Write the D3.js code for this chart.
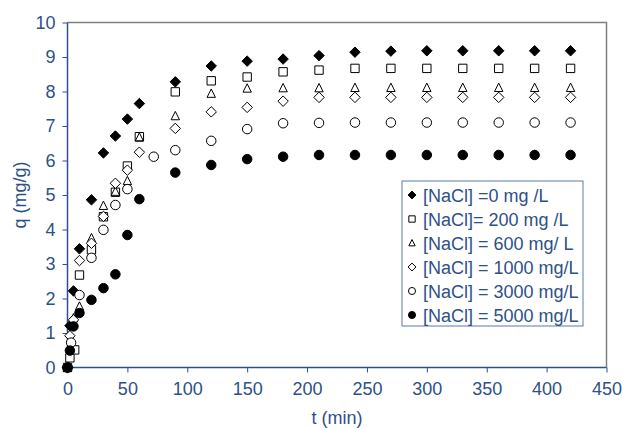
<!DOCTYPE html>
<html>
<head>
<meta charset="utf-8">
<script src="https://cdn.jsdelivr.net/npm/d3@7"></script>
<style>
  body { margin: 0; background: #fff; }
  text { font-family: "Liberation Sans", Arial, sans-serif; }
</style>
</head>
<body>
<div id="chart"></div>
<script>
var w = 625, h = 428;

// sampling times (min) and q (mg/g) for each NaCl level
var t0 = [0, 2, 5, 10, 20, 30, 40, 50, 60, 90, 120, 150, 180, 210, 240, 270, 300, 330, 360, 390, 420];
var q0 = [0, 1.21, 2.22, 3.44, 4.86, 6.22, 6.71, 7.2, 7.65, 8.28, 8.74, 8.88, 8.94, 9.04, 9.14, 9.17, 9.18, 9.18, 9.18, 9.18, 9.18];

var t200 = [0, 2, 6, 10, 20, 30, 40, 50, 60, 90, 120, 150, 180, 210, 240, 270, 300, 330, 360, 390, 420];
var q200 = [0, 0.28, 0.51, 2.68, 3.41, 4.37, 5.08, 5.84, 6.69, 7.99, 8.31, 8.42, 8.57, 8.62, 8.67, 8.67, 8.67, 8.67, 8.67, 8.67, 8.67];

var t600 = [0, 5, 10, 20, 30, 40, 50, 60, 90, 120, 150, 180, 210, 240, 270, 300, 330, 360, 390, 420];
var q600 = [0, 1.43, 1.77, 3.75, 4.69, 5.1, 5.41, 6.67, 7.29, 7.94, 8.09, 8.1, 8.1, 8.11, 8.11, 8.11, 8.11, 8.11, 8.11, 8.11];

var t1000 = [0, 2, 5, 10, 20, 30, 40, 50, 60, 90, 120, 150, 180, 210, 240, 270, 300, 330, 360, 390, 420];
var q1000 = [0, 0.92, 1.38, 3.1, 3.6, 4.38, 5.34, 5.72, 6.24, 6.93, 7.41, 7.54, 7.72, 7.83, 7.83, 7.83, 7.83, 7.83, 7.83, 7.83, 7.83];

var t3000 = [0, 3, 10, 20, 30, 40, 50, 72, 90, 120, 150, 180, 210, 240, 270, 300, 330, 360, 390, 420];
var q3000 = [0, 0.72, 2.1, 3.18, 3.99, 4.71, 5.17, 6.11, 6.3, 6.57, 6.91, 7.08, 7.09, 7.1, 7.1, 7.1, 7.1, 7.1, 7.1, 7.1];

var t5000 = [0, 2, 5, 10, 20, 30, 40, 50, 60, 90, 120, 150, 180, 210, 240, 270, 300, 330, 360, 390, 420];
var q5000 = [0, 0.49, 1.19, 1.58, 1.96, 2.3, 2.7, 3.84, 4.88, 5.65, 5.87, 6.04, 6.11, 6.16, 6.16, 6.16, 6.16, 6.16, 6.16, 6.16, 6.16];

var seriesNames = ["[NaCl] =0 mg /L", "[NaCl]= 200 mg /L", "[NaCl] = 600 mg/ L",
                   "[NaCl] = 1000 mg/L", "[NaCl] = 3000 mg/L", "[NaCl] = 5000 mg/L"];
var xTicks = [0, 50, 100, 150, 200, 250, 300, 350, 400, 450];
var yTicks = [0, 1, 2, 3, 4, 5, 6, 7, 8, 9, 10];

var blue = "#2e5089";

// excel-like marker shapes
var diamond = { draw: function (c, s) { var r = Math.sqrt(s) / 2 * 1.25; c.moveTo(0, -r); c.lineTo(r, 0); c.lineTo(0, r); c.lineTo(-r, 0); c.closePath(); } };
var square = { draw: function (c, s) { var r = Math.sqrt(s) / 2; c.rect(-r, -r, 2 * r, 2 * r); } };
var triangle = { draw: function (c, s) { var r = Math.sqrt(s) / 2; c.moveTo(0, -r * 1.1); c.lineTo(r, r * 0.9); c.lineTo(-r, r * 0.9); c.closePath(); } };
var circle = { draw: function (c, s) { var r = Math.sqrt(s) / 2; c.moveTo(r, 0); c.arc(0, 0, r, 0, 2 * Math.PI); } };

var series = [
  { name: seriesNames[0], t: t0, q: q0, shape: diamond, fill: "#000" },
  { name: seriesNames[1], t: t200, q: q200, shape: square, fill: "#fff" },
  { name: seriesNames[2], t: t600, q: q600, shape: triangle, fill: "none" },
  { name: seriesNames[3], t: t1000, q: q1000, shape: diamond, fill: "#fff" },
  { name: seriesNames[4], t: t3000, q: q3000, shape: circle, fill: "#fff" },
  { name: seriesNames[5], t: t5000, q: q5000, shape: circle, fill: "#000" }
];

var svg = d3.select("#chart").append("svg")
    .attr("width", w)
    .attr("height", h);

var x = d3.scaleLinear().domain([0, 450]).range([67.5, 606.5]);
var y = d3.scaleLinear().domain([0, 10]).range([367.5, 22.5]);

// top and right frame
svg.append("path")
    .attr("d", "M" + x(0) + "," + y(10) + "H" + x(450) + "V" + y(0))
    .attr("fill", "none")
    .attr("stroke", "#808080")
    .attr("stroke-width", 1.5);

var yAxis = d3.axisLeft(y).tickValues(yTicks).tickSize(5).tickPadding(7).tickFormat(d3.format("d"));
var xAxis = d3.axisBottom(x).tickValues(xTicks).tickSize(5).tickPadding(10).tickFormat(d3.format("d"));

var gy = svg.append("g")
    .attr("transform", "translate(" + x(0) + ",0)")
    .call(yAxis);
var gx = svg.append("g")
    .attr("transform", "translate(0," + y(0) + ")")
    .call(xAxis);

[gx, gy].forEach(function (g) {
  g.select(".domain").attr("stroke", blue).attr("stroke-width", 1.5);
  g.selectAll(".tick line").attr("stroke", blue);
  g.selectAll(".tick text").attr("fill", blue).style("font-size", "18px");
});
gy.select(".domain").attr("d", "M0," + y(10) + "V" + y(0));
gx.select(".domain").attr("d", "M" + x(0) + ",0H" + x(450));

svg.append("text")
    .attr("x", (x(0) + x(450)) / 2)
    .attr("y", 424)
    .attr("text-anchor", "middle")
    .attr("fill", blue)
    .style("font-size", "18px")
    .text("t (min)");

svg.append("text")
    .attr("transform", "translate(26," + ((y(0) + y(10)) / 2) + ") rotate(-90)")
    .attr("text-anchor", "middle")
    .attr("fill", blue)
    .style("font-size", "18px")
    .text("q (mg/g)");

// points
var sym = d3.symbol();
series.forEach(function (s) {
  svg.append("g").selectAll("path")
      .data(s.t.map(function (t, i) { return [t, s.q[i]]; }))
    .join("path")
      .attr("transform", function (d) { return "translate(" + x(d[0]) + "," + y(d[1]) + ")"; })
      .attr("d", sym.type(s.shape).size(s.shape === circle ? 90 : 70)())
      .attr("fill", s.fill)
      .attr("stroke", "#000")
      .attr("stroke-width", 1);
});

// legend
var legend = svg.append("g").attr("transform", "translate(402,181)");
legend.append("rect")
    .attr("width", 181)
    .attr("height", 145)
    .attr("fill", "#fff")
    .attr("stroke", "#5b7bb0")
    .attr("stroke-width", 1);

var rows = legend.selectAll(".row")
    .data(series)
  .join("g")
    .attr("class", "row")
    .attr("transform", function (d, i) { return "translate(0," + (14 + i * 24) + ")"; });

rows.append("path")
    .attr("transform", "translate(10,0)")
    .attr("d", function (d) { return sym.type(d.shape).size(d.shape === circle ? 50 : 40)(); })
    .attr("fill", function (d) { return d.fill; })
    .attr("stroke", "#000")
    .attr("stroke-width", 1);

rows.append("text")
    .attr("x", 21)
    .attr("y", 6.5)
    .attr("fill", blue)
    .style("font-size", "18px")
    .text(function (d) { return d.name; });
</script>
</body>
</html>
